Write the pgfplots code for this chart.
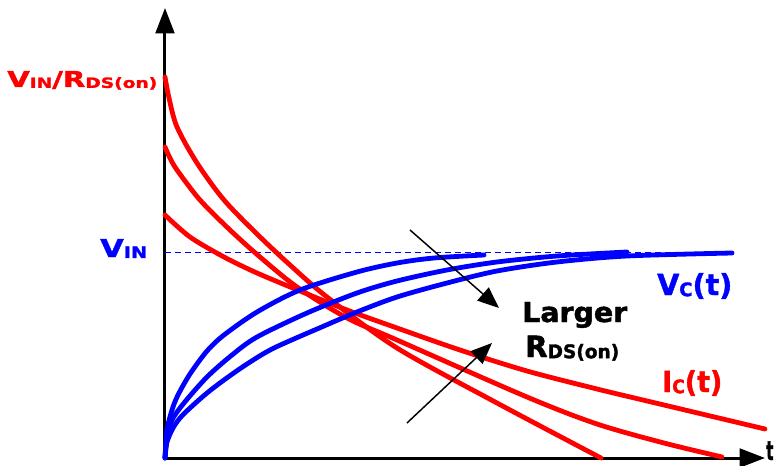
\documentclass[border=0pt]{standalone}
\usepackage{pgfplots}
\pgfplotsset{compat=1.18}
\usepackage{fontspec}
\setmainfont{DejaVu Sans}[BoldFeatures={FakeBold=1.6}]
\usetikzlibrary{arrows.meta}

\definecolor{rc}{RGB}{255,0,0}
\definecolor{bc}{RGB}{0,0,255}

% small lowered letters used as subscripts
\newcommand\sm[1]{\raisebox{-0.4pt}{\fontsize{6.4}{7}\selectfont #1}}
% label scaled to a given width and cap height
\newcommand\lbl[3]{\resizebox{#1}{#2}{\bfseries #3}}

\begin{document}
\begin{tikzpicture}
\begin{axis}[
  x=0.75pt, y=0.75pt,
  xmin=0, xmax=600, ymin=0, ymax=450,
  axis lines=left,
  axis line style={line width=2.25pt, -{Triangle[length=19pt,width=14pt]}},
  xtick=\empty, ytick=\empty,
  clip=false,
  every axis plot/.append style={line width=3.6pt, line cap=round, line join=round},
]
% reference level V_IN
\addplot[bc, line width=0.75pt, dash pattern=on 4.5pt off 3pt, line cap=butt] coordinates {(0,206) (567,206)};

% capacitor current I_C(t) for three values of R_DS(on)
\addplot[rc, smooth] coordinates {
  (0,381) (4,360) (12,331) (32,295) (59,258) (92,224) (125,193) (162,161)
  (232,110) (332,55) (436,0)};
\addplot[rc, smooth] coordinates {
  (0,311) (5,300) (12,288) (35,258) (65,228) (95,201) (132,171) (182,140)
  (232,118) (362,61) (432,34) (499,15) (557,1)};
\addplot[rc, smooth] coordinates {
  (0,243) (25,221) (59,201) (92,185) (135,167) (182,148) (232,130)
  (295,108) (362,87) (432,69) (499,53) (600,29)};

% capacitor voltage V_C(t) for three values of R_DS(on)
\addplot[bc, smooth] coordinates {
  (0,0) (2,28) (7,48) (13,63) (25,84) (42,107) (59,123) (92,146)
  (135,168) (192,186) (232,195) (269,200) (319,203)};
\addplot[bc, smooth] coordinates {
  (0,0) (2,20) (7,38) (19,55) (42,81) (67,103) (92,121) (142,145)
  (192,165) (232,177) (282,188) (332,196) (392,202) (462,206)};
\addplot[bc, smooth] coordinates {
  (0,0) (2,16) (8,30) (15,40) (25,50) (42,65) (59,78) (82,94) (109,110)
  (159,132) (192,146) (232,161) (282,175) (332,187) (392,196) (462,202)
  (567,205)};

% trend arrows
\draw[line width=1.1pt, -{Triangle[length=16pt,width=13pt]}] (axis cs:245,228) -- (axis cs:334,150);
\draw[line width=1.1pt, -{Triangle[length=16pt,width=13pt]}] (axis cs:242,35) -- (axis cs:327,115);

% labels
\node[anchor=base west, inner sep=0, text=rc] at (axis cs:-158,371)
  {\lbl{112.5pt}{12pt}{V\sm{IN}/R\sm{DS(on)}}};
\node[anchor=base west, inner sep=0, text=bc] at (axis cs:-65,201)
  {\lbl{35.25pt}{13.5pt}{V\sm{IN}}};
\node[anchor=base west, inner sep=0, text=bc] at (axis cs:492,163)
  {\lbl{56.25pt}{16.5pt}{V\sm{C}(t)}};
\node[anchor=base west, inner sep=0, text=rc] at (axis cs:497,66)
  {\lbl{45pt}{16.5pt}{I\sm{C}(t)}};
\node[anchor=base west, inner sep=0] at (axis cs:357,136)
  {\lbl{78.75pt}{15pt}{Larger}};
\node[anchor=base west, inner sep=0] at (axis cs:360,101)
  {\lbl{70.5pt}{16pt}{R\sm{DS(on)}}};
\node[anchor=base west, inner sep=0] at (axis cs:601,-2)
  {\resizebox{5.4pt}{14pt}{\bfseries t}};

\coordinate (bbl) at (axis cs:-165,-7);
\coordinate (btr) at (axis cs:614,458);
\end{axis}
\pgfresetboundingbox
\path (bbl) rectangle (btr);
\end{tikzpicture}
\end{document}
